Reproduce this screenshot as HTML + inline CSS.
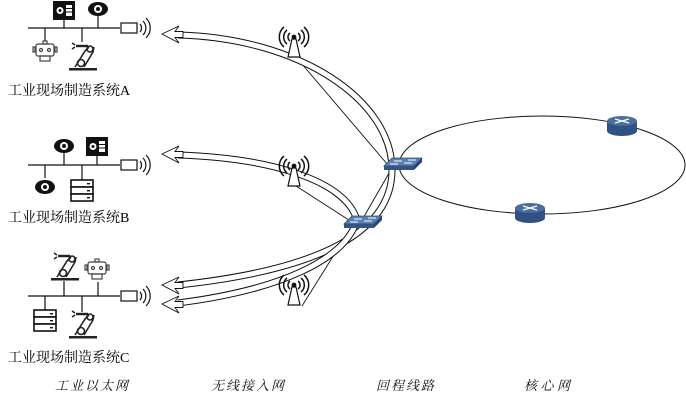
<!DOCTYPE html>
<html><head><meta charset="utf-8"><style>
html,body{margin:0;padding:0;background:#fff;}
svg{display:block;}
text{font-family:"Liberation Serif","Noto Serif CJK SC","Noto Sans CJK SC",serif;}
</style></head><body>
<svg width="686" height="401" viewBox="0 0 686 401" xmlns="http://www.w3.org/2000/svg">
<defs>
<g id="gear">
 <rect x="0" y="0" width="22" height="19" fill="#111"/>
 <circle cx="7" cy="9.5" r="3.5" fill="#fff"/><circle cx="7" cy="9.5" r="1.5" fill="#111"/>
 <rect x="13" y="4" width="6" height="11" fill="#fff"/>
 <rect x="13" y="7" width="6" height="1" fill="#111"/><rect x="13" y="10.5" width="6" height="1" fill="#111"/>
</g>
<g id="eye">
 <ellipse cx="0" cy="0" rx="10" ry="7" fill="#111"/>
 <circle cx="0" cy="0" r="4" fill="#fff"/><circle cx="0" cy="0" r="2" fill="#111"/>
</g>
<g id="robot" fill="none" stroke="#444" stroke-width="1.2">
 <rect x="-2" y="0" width="4" height="3"/>
 <rect x="-9" y="3" width="18" height="12" rx="2"/>
 <circle cx="-4" cy="9" r="1.5"/><circle cx="4" cy="9" r="1.5"/>
 <rect x="-12" y="6" width="2" height="5"/><rect x="10" y="6" width="2" height="5"/>
 <rect x="-5" y="15" width="10" height="5"/>
</g>
<g id="arm" fill="none" stroke="#222" stroke-width="1.6">
 <rect x="-3" y="25" width="28" height="2.5" fill="#222" stroke="none"/>
 <path d="M3 24 L13 8 L17 4"/><path d="M12 24 L21 9 L22 4"/>
 <circle cx="9" cy="20" r="3.5"/><circle cx="18" cy="6" r="3"/>
 <path d="M4 3 L16 3" stroke-width="2.4"/><path d="M0 0 L3 2 M0 6 L3 4"/>
</g>
<g id="server" fill="#fff" stroke="#111" stroke-width="1.6">
 <rect x="0" y="0" width="22" height="7"/><rect x="0" y="7" width="22" height="7"/><rect x="0" y="14" width="22" height="7"/>
 <rect x="16" y="3" width="3" height="1.4" fill="#111" stroke="none"/><rect x="16" y="10" width="3" height="1.4" fill="#111" stroke="none"/><rect x="16" y="17" width="3" height="1.4" fill="#111" stroke="none"/>
</g>
<g id="ap" fill="none" stroke="#111" stroke-width="1.2">
 <rect x="0" y="-5" width="16" height="10" fill="#fff"/>
 <path d="M19 -4 A6 6 0 0 1 19 4"/><path d="M22 -7 A10 10 0 0 1 22 7"/><path d="M25 -10 A14 14 0 0 1 25 10"/>
</g>
<g id="tower" fill="none" stroke="#111" stroke-width="1.2">
 <path d="M-2 2 L-6 20 L6 20 L2 2 Z" fill="#fff"/>
 <circle cx="0" cy="0" r="1.8" fill="#111"/>
 <path d="M-4 -4 A5 5 0 0 0 -4 4 M4 -4 A5 5 0 0 1 4 4" stroke-width="1.5"/>
 <path d="M-7 -7 A9 9 0 0 0 -7 7 M7 -7 A9 9 0 0 1 7 7" stroke-width="1.5"/>
 <path d="M-10 -10 A13 13 0 0 0 -10 10 M10 -10 A13 13 0 0 1 10 10" stroke-width="1.5"/>
</g>
<g id="switch">
 <path d="M-18 4 L-10 -4 L20 -4 L12 4 Z" fill="#5a7fb0" stroke="#2e4d78" stroke-width="0.8"/>
 <path d="M-18 4 L12 4 L12 8 L-18 8 Z" fill="#34557f"/>
 <path d="M12 4 L20 -4 L20 0 L12 8 Z" fill="#27456c"/>
 <path d="M-8 -1 L0 -1 M2 1 L10 1 M-4 2 L-12 2 M6 -2 L14 -2" stroke="#fff" stroke-width="1"/>
</g>
<g id="router">
 <path d="M-15 0 L-15 10 A15 5 0 0 0 15 10 L15 0 Z" fill="#2f5283"/>
 <ellipse cx="0" cy="0" rx="15" ry="5" fill="#4a6f9f"/>
 <path d="M-7 -2 L7 2 M-7 2 L7 -2" stroke="#fff" stroke-width="1.3"/>
</g>
</defs>

<ellipse cx="542" cy="165" rx="143" ry="49" fill="none" stroke="#111" stroke-width="1"/>

<g stroke="#111" stroke-width="0.9" fill="none">
 <line x1="296" y1="57" x2="388" y2="165"/>
 <line x1="296" y1="186" x2="352" y2="222"/>
 <line x1="392" y1="168" x2="362" y2="220"/>
 <line x1="352" y1="226" x2="302" y2="306"/>
</g>

<g fill="none" stroke-linecap="butt">
 <path d="M178 35 C 300 38 392 100 392 170 C 392 240 300 272 178 285" stroke="#111" stroke-width="7"/>
 <path d="M178 35 C 300 38 392 100 392 170 C 392 240 300 272 178 285" stroke="#fff" stroke-width="5"/>
 <path d="M178 155 C 270 158 345 180 357 220 C 345 260 280 290 178 303" stroke="#111" stroke-width="7"/>
 <path d="M178 155 C 270 158 345 180 357 220 C 345 260 280 290 178 303" stroke="#fff" stroke-width="5"/>
</g>
<g fill="#fff" stroke="#111" stroke-width="0.9">
 <path d="M162 34 L179 26 L175 31.5 L183 31.5 L183 37.5 L175 37.5 L179 43 Z"/>
 <path d="M162 154 L179 146 L175 151.5 L183 151.5 L183 157.5 L175 157.5 L179 163 Z"/>
 <path d="M162 285 L179 277 L175 282.5 L183 282.5 L183 288.5 L175 288.5 L179 294 Z"/>
 <path d="M162 304 L179 296 L175 301.5 L183 301.5 L183 307.5 L175 307.5 L179 313 Z"/>
</g>

<use href="#tower" x="294" y="37"/>
<use href="#tower" x="294" y="166"/>
<use href="#tower" x="294" y="285"/>
<use href="#switch" x="402" y="162"/>
<use href="#switch" x="362" y="220"/>
<use href="#router" x="622" y="121"/>
<use href="#router" x="530" y="208"/>

<!-- System A -->
<g stroke="#111" stroke-width="1.2">
 <line x1="28" y1="28" x2="120" y2="28"/>
 <line x1="64" y1="20" x2="64" y2="28"/><line x1="98" y1="14" x2="98" y2="28"/>
 <line x1="45" y1="28" x2="45" y2="41"/><line x1="82" y1="28" x2="82" y2="42"/>
</g>
<use href="#gear" x="53" y="1"/><use href="#eye" x="98" y="9"/>
<use href="#robot" x="45" y="41"/><use href="#arm" x="72" y="43"/>
<use href="#ap" x="121" y="28"/>
<text x="8" y="95" font-size="14">工业现场制造系统A</text>

<!-- System B -->
<g stroke="#111" stroke-width="1.2">
 <line x1="28" y1="165" x2="120" y2="165"/>
 <line x1="64" y1="152" x2="64" y2="165"/><line x1="97" y1="156" x2="97" y2="165"/>
 <line x1="45" y1="165" x2="45" y2="178"/><line x1="82" y1="165" x2="82" y2="180"/>
</g>
<use href="#eye" x="64" y="146"/><use href="#gear" x="86" y="137"/>
<use href="#eye" x="45" y="187"/><use href="#server" x="71" y="180"/>
<use href="#ap" x="121" y="165"/>
<text x="8" y="222" font-size="14">工业现场制造系统B</text>

<!-- System C -->
<g stroke="#111" stroke-width="1.2">
 <line x1="28" y1="296" x2="120" y2="296"/>
 <line x1="64" y1="281" x2="64" y2="296"/><line x1="98" y1="282" x2="98" y2="296"/>
 <line x1="45" y1="296" x2="45" y2="310"/><line x1="82" y1="296" x2="82" y2="312"/>
</g>
<use href="#arm" x="54" y="253"/><use href="#robot" x="97" y="259"/>
<use href="#server" x="34" y="310"/><use href="#arm" x="72" y="311"/>
<use href="#ap" x="121" y="296"/>
<text x="8" y="362" font-size="14">工业现场制造系统C</text>

<g font-size="13" font-style="italic" fill="#111">
 <text x="55" y="390" textLength="73">工业以太网</text>
 <text x="211" y="390" textLength="73">无线接入网</text>
 <text x="376" y="390" textLength="58">回程线路</text>
 <text x="524" y="390" textLength="46">核心网</text>
</g>
</svg>
</body></html>
